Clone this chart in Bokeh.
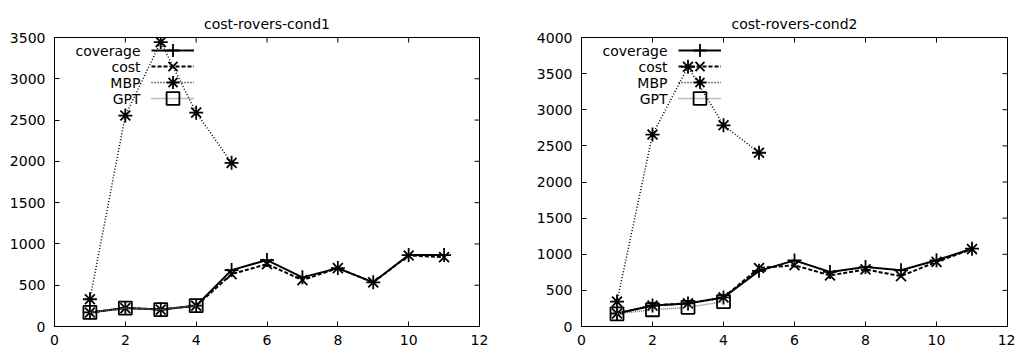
import math
from bokeh.plotting import figure
from bokeh.layouts import row
from bokeh.models import Range1d, FixedTicker, Legend, LegendItem, Label
from bokeh.embed import file_html
from bokeh.resources import INLINE

# ---------------- data ----------------
x_ticks = [0, 2, 4, 6, 8, 10, 12]
xs_full = [1, 2, 3, 4, 5, 6, 7, 8, 9, 10, 11]
xs_mbp = [1, 2, 3, 4, 5]
xs_gpt = [1, 2, 3, 4]

series_names = ["coverage", "cost", "MBP", "GPT"]

c1_title = "cost-rovers-cond1"
c1_yticks = [0, 500, 1000, 1500, 2000, 2500, 3000, 3500]
c1_coverage = [170, 223, 205, 252, 683, 805, 595, 707, 535, 865, 865]
c1_cost = [170, 223, 205, 252, 634, 755, 562, 707, 535, 860, 840]
c1_mbp = [330, 2555, 3445, 2590, 1982]
c1_gpt = [170, 223, 205, 252]

c2_title = "cost-rovers-cond2"
c2_yticks = [0, 500, 1000, 1500, 2000, 2500, 3000, 3500, 4000]
c2_coverage = [180, 290, 320, 402, 770, 915, 755, 823, 778, 916, 1077]
c2_cost = [180, 290, 320, 402, 810, 848, 708, 790, 697, 895, 1072]
c2_mbp = [345, 2657, 3595, 2785, 2405]
c2_gpt = [175, 232, 265, 345]

FONT = "DejaVu Sans"
FS = "14px"
FRAME_H = 289
KEY_TOP = 13      # px from frame top to the first key row
KEY_STEP = 16     # px between key rows
KEY_SAMPLE_X = 97  # px from frame left to the key samples
KEY_GAP = 11


def style_axis(ax, ticks, standoff):
    ax.ticker = FixedTicker(ticks=ticks)
    ax.major_tick_in = 5
    ax.major_tick_out = 0
    ax.minor_tick_in = 0
    ax.minor_tick_out = 0
    ax.axis_line_color = "black"
    ax.major_tick_line_color = "black"
    ax.major_label_text_font = FONT
    ax.major_label_text_color = "black"
    ax.major_label_text_font_size = FS
    ax.major_label_standoff = standoff


def make_fig(title, yticks, cov, cost, mbp, gpt, width, bl, br):
    ymax = yticks[-1]
    p = figure(width=width, height=348, x_range=Range1d(0, 12), y_range=Range1d(0, ymax),
               output_backend="svg", toolbar_location=None,
               min_border_left=bl, min_border_right=br, min_border_top=37, min_border_bottom=22)
    p.title.text = title
    p.title.align = "center"
    p.title.text_font = FONT
    p.title.text_font_size = FS
    p.title.text_font_style = "normal"
    p.title.text_color = "black"
    p.title.standoff = 11
    p.grid.visible = False
    p.outline_line_color = "black"
    p.outline_line_alpha = 1
    p.background_fill_color = "white"
    p.border_fill_color = "white"

    style_axis(p.xaxis[0], x_ticks, 8)
    style_axis(p.yaxis[0], yticks, 9)

    # mirrored inward ticks on the top and right edges (half of each dash is clipped by the frame)
    p.scatter(x_ticks, [ymax] * len(x_ticks), marker="dash", angle=math.pi / 2, size=10,
              line_color="black", line_width=1)
    p.scatter([12] * len(yticks), yticks, marker="dash", size=10, line_color="black", line_width=1)

    l1 = p.line(xs_full, cov, line_color="black", line_width=2)
    m1 = p.scatter(xs_full, cov, marker="cross", size=14, line_color="black", line_width=1.8, fill_color=None)
    l2 = p.line(xs_full, cost, line_color="black", line_width=2, line_dash="4 2")
    m2 = p.scatter(xs_full, cost, marker="x", size=14, line_color="black", line_width=1.8, fill_color=None)
    l3 = p.line(xs_mbp, mbp, line_color="black", line_width=1.5, line_dash="1 2")
    m3 = p.scatter(xs_mbp, mbp, marker="asterisk", size=14, line_color="black", line_width=1.8, fill_color=None)
    l4 = p.line(xs_gpt, gpt, line_color="#777777", line_width=1.5, line_dash="1 1")
    m4 = p.scatter(xs_gpt, gpt, marker="square", size=13, line_color="black", line_width=1.8, fill_color=None)
    rends = [(l1, m1), (l2, m2), (l3, m3), (l4, m4)]

    # gnuplot-style key: label on the left, right-aligned, sample on the right
    for i, (name, (ln, mk)) in enumerate(zip(series_names, rends)):
        center = KEY_TOP + KEY_STEP * i
        leg = Legend(items=[LegendItem(label=" ", renderers=[ln, mk])],
                     location=(KEY_SAMPLE_X, FRAME_H - center - 16),
                     glyph_width=43, glyph_height=32, label_height=10, label_width=0,
                     label_standoff=0, spacing=0, padding=0, margin=0,
                     label_text_font_size="10px", background_fill_alpha=0, border_line_alpha=0)
        p.add_layout(leg, "center")
        p.add_layout(Label(x=KEY_SAMPLE_X - KEY_GAP, y=FRAME_H - center, x_units="screen", y_units="screen",
                           text=name, text_align="right", text_baseline="middle", text_font=FONT,
                           text_font_size=FS, text_color="black"))
    return p


p1 = make_fig(c1_title, c1_yticks, c1_coverage, c1_cost, c1_mbp, c1_gpt, 508, 54, 29)
p2 = make_fig(c2_title, c2_yticks, c2_coverage, c2_cost, c2_mbp, c2_gpt, 507, 73, 8)

layout = row(p1, p2)
open("out.html", "w").write(file_html(layout, INLINE))
